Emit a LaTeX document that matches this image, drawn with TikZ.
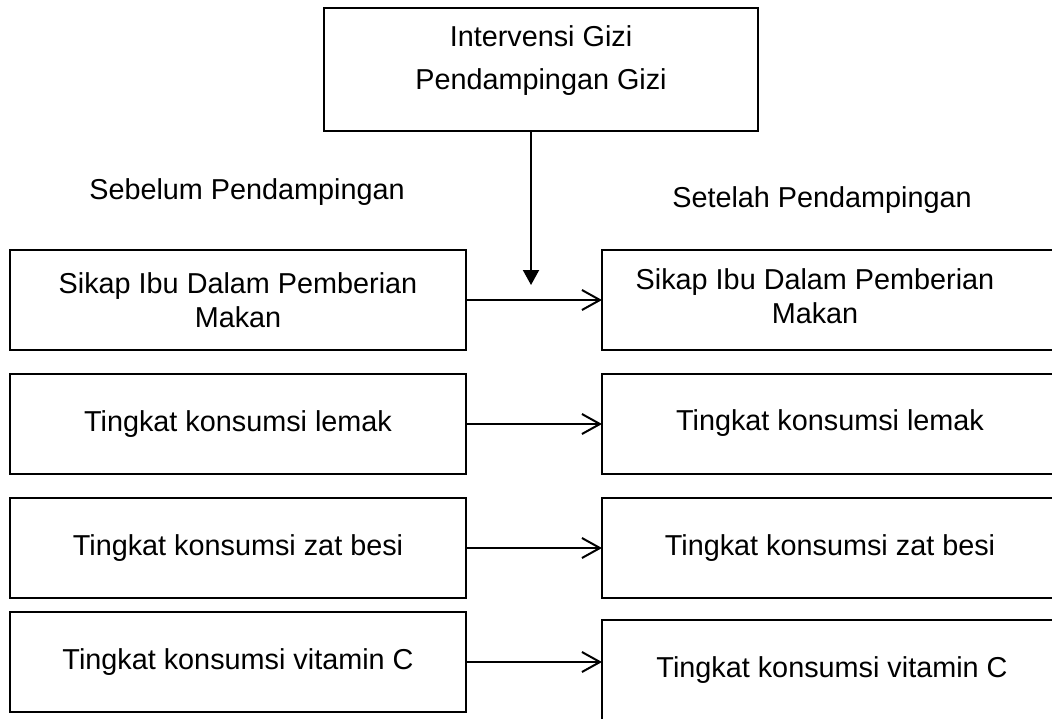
\documentclass[tikz,border=0pt]{standalone}
\usepackage{fontspec}
\setmainfont{Liberation Sans}
\usetikzlibrary{arrows.meta}

\begin{document}
\begin{tikzpicture}[x=0.5pt, y=-0.5pt, line width=1pt,
  font=\fontsize{14.4}{17}\selectfont,
  kotak/.style={draw, rectangle, inner sep=0pt, outer sep=0pt},
  panah/.style={-{Straight Barb[length=9pt,width=10pt]}}]
\useasboundingbox (0,0) rectangle (1052,718);
\clip (0,0) rectangle (1052,718);
% Intervensi
\node[kotak, minimum width=217pt, minimum height=61.5pt] (top) at (541,69.5) {};
\node[align=center, font=\fontsize{14.4}{21.5}\selectfont] (toptxt) at (541,61) {Intervensi Gizi\\Pendampingan Gizi};
\coordinate (tip) at (531,285);
\draw[-{Triangle[length=7.5pt,width=8pt]}] (tip |- top.south) -- (tip);
% Judul
\node (sebelum) at (247,192) {Sebelum Pendampingan};
\node (setelah) at (822,200) {Setelah Pendampingan};
% Kotak
\foreach \i/\yl/\yr/\h/\xt/\yt/\txt in {
  1/300/300/50pt/815/296/{Sikap Ibu Dalam Pemberian\\Makan},
  2/424/424/50pt/830/423/{Tingkat konsumsi lemak},
  3/548/548/50pt/830/548/{Tingkat konsumsi zat besi},
  4/662/680/60pt/832/670/{Tingkat konsumsi vitamin C}} {
  \node[kotak, minimum width=228pt, minimum height=50pt, align=center] (l\i) at (238,\yl) {\txt};
  \node[kotak, minimum width=249pt, minimum height=\h] (r\i) at (851,\yr) {};
  \node[align=center] (rt\i) at (\xt,\yt) {\txt};
  \draw[panah] (l\i.east) -- (l\i.east -| r\i.west);
}
\end{tikzpicture}
\end{document}
